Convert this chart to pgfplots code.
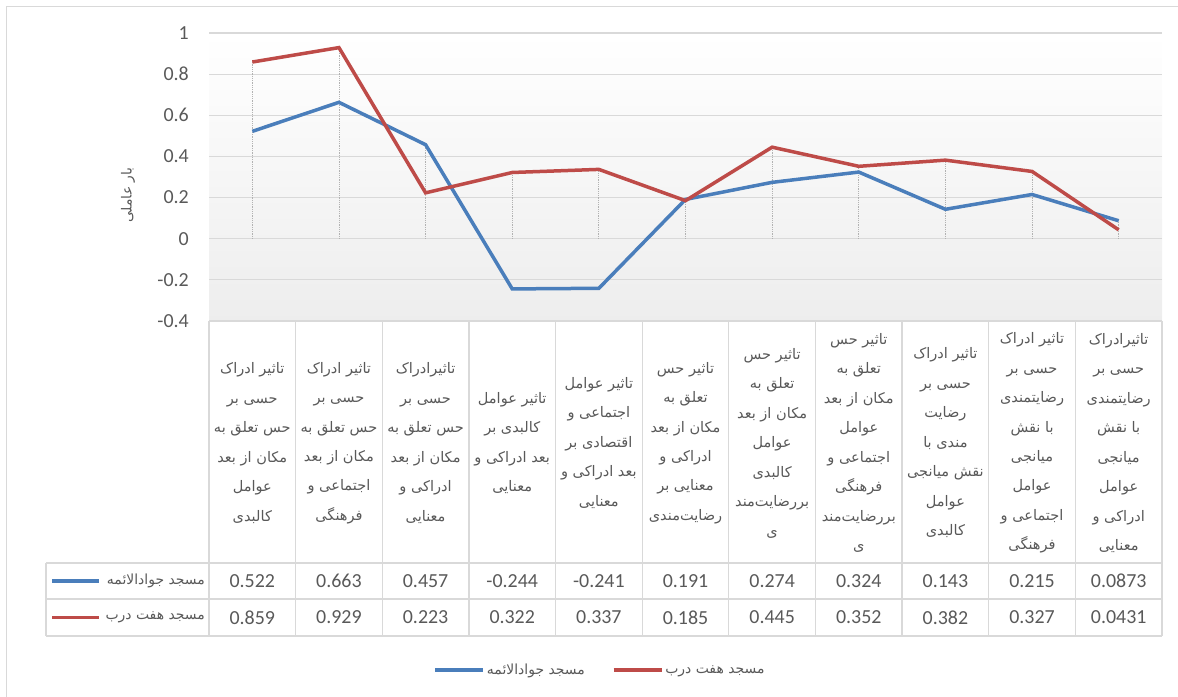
\documentclass[border=0pt]{standalone}
\usepackage{pgfplots}
\pgfplotsset{compat=1.18}
\usepackage{fontspec}
\setmainfont{Carlito}
\newfontfamily\arabicfont[Script=Arabic]{DejaVu Sans}
\TeXXeTstate=1
\definecolor{txt}{HTML}{595959}
\definecolor{bl}{HTML}{4A7EBB}
\definecolor{rd}{HTML}{BE4B48}
\definecolor{grd}{HTML}{D9D9D9}
\newcommand\fa[1]{\beginR #1\endR}
\newcommand\cat[2]{\node[align=center, font=\arabicfont\fontsize{14.6}{29.6}\selectfont, text=txt] at ({209+86.636*(#1-0.5)},443) {#2};}
\begin{document}
\begin{tikzpicture}
\begin{axis}[
 at={(209bp,-321bp)}, anchor=south west,
 scale only axis, width=953bp, height=288bp,
 xmin=0.5, xmax=11.5, ymin=-0.4, ymax=1,
 axis line style={draw=none},
 xtick=\empty,
 ytick={-0.4,-0.2,0,0.2,0.4,0.6,0.8,1},
 yticklabels={-0.4,-0.2,0,0.2,0.4,0.6,0.8,1},
 major tick length=0pt,
 ymajorgrids, grid style={grd, line width=1.2bp},
 yticklabel style={inner sep=0pt, xshift=-20bp, font=\fontsize{20}{24}\selectfont, text=txt},
 axis background/.style={top color=white, bottom color=black!7},
 legend columns=2,
 legend style={at={(0.4103,-1.2118)}, anchor=center, draw=none, fill=none,
   font=\arabicfont\fontsize{14}{16}\selectfont, text=txt,
   /tikz/every even column/.append style={column sep=25bp}},
 legend image code/.code={\draw[#1] (0bp,0bp) -- (48bp,0bp);},
]
\addplot[ycomb, draw=black!30, densely dotted, line width=0.8bp, forget plot] coordinates {
(1,0.859) (2,0.929) (3,0.457) (4,0.322) (5,0.337) (6,0.191) (7,0.445) (8,0.352) (9,0.382) (10,0.327) (11,0.0873)};
\addplot[bl, line width=3.5bp] coordinates {
(1,0.522) (2,0.663) (3,0.457) (4,-0.244) (5,-0.241) (6,0.191) (7,0.274) (8,0.324) (9,0.143) (10,0.215) (11,0.0873)};
\addlegendentry{\fa{مسجد جوادالائمه}}
\addplot[rd, line width=3.5bp] coordinates {
(1,0.859) (2,0.929) (3,0.223) (4,0.322) (5,0.337) (6,0.185) (7,0.445) (8,0.352) (9,0.382) (10,0.327) (11,0.0431)};
\addlegendentry{\fa{مسجد هفت درب}}
\end{axis}
\begin{scope}[x=1bp,y=-1bp]
\path[use as bounding box] (0,0) rectangle (1178,697);
\draw[grd, line width=1bp] (6,697) -- (6,7) -- (1178,7);
\foreach \k in {0,...,11} \draw[grd, line width=1.2bp] ({209+86.636*\k},321) -- ({209+86.636*\k},636);
\draw[grd, line width=1.2bp] (209,321) -- (1162,321);
\foreach \yy in {563,599,636} \draw[grd, line width=1.2bp] (46,\yy) -- (1162,\yy);
\draw[grd, line width=1.2bp] (46,563) -- (46,636);
\foreach \v [count=\i] in {0.522,0.663,0.457,-0.244,-0.241,0.191,0.274,0.324,0.143,0.215,0.0873}
  \node[font=\fontsize{20}{24}\selectfont, text=txt] at ({209+86.636*(\i-0.5)},581) {\v};
\foreach \v [count=\i] in {0.859,0.929,0.223,0.322,0.337,0.185,0.445,0.352,0.382,0.327,0.0431}
  \node[font=\fontsize{20}{24}\selectfont, text=txt] at ({209+86.636*(\i-0.5)},617.5) {\v};
\draw[bl, line width=3.5bp] (52,581) -- (99,581);
\draw[rd, line width=3.5bp] (52,617.5) -- (99,617.5);
\node[anchor=east, inner sep=0pt, font=\arabicfont\fontsize{14}{16}\selectfont, text=txt] at (205,581) {\fa{مسجد جوادالائمه}};
\node[anchor=east, inner sep=0pt, font=\arabicfont\fontsize{14}{16}\selectfont, text=txt] at (205,617.5) {\fa{مسجد هفت درب}};
\node[rotate=90, font=\arabicfont\fontsize{14}{16}\selectfont, text=txt] at (128,195) {\fa{بار عاملی}};
\cat{1}{\fa{تاثیر ادراک}\\\fa{حسی بر}\\\fa{حس تعلق به}\\\fa{مکان از بعد}\\\fa{عوامل}\\\fa{کالبدی}}
\cat{2}{\fa{تاثیر ادراک}\\\fa{حسی بر}\\\fa{حس تعلق به}\\\fa{مکان از بعد}\\\fa{اجتماعی و}\\\fa{فرهنگی}}
\cat{3}{\fa{تاثیرادراک}\\\fa{حسی بر}\\\fa{حس تعلق به}\\\fa{مکان از بعد}\\\fa{ادراکی و}\\\fa{معنایی}}
\cat{4}{\fa{تاثیر عوامل}\\\fa{کالبدی بر}\\\fa{بعد ادراکی و}\\\fa{معنایی}}
\cat{5}{\fa{تاثیر عوامل}\\\fa{اجتماعی و}\\\fa{اقتصادی بر}\\\fa{بعد ادراکی و}\\\fa{معنایی}}
\cat{6}{\fa{تاثیر حس}\\\fa{تعلق به}\\\fa{مکان از بعد}\\\fa{ادراکی و}\\\fa{معنایی بر}\\\fa{رضایت‌مندی}}
\cat{7}{\fa{تاثیر حس}\\\fa{تعلق به}\\\fa{مکان از بعد}\\\fa{عوامل}\\\fa{کالبدی}\\\fa{بررضایت‌مند}\\\fa{ی}}
\cat{8}{\fa{تاثیر حس}\\\fa{تعلق به}\\\fa{مکان از بعد}\\\fa{عوامل}\\\fa{اجتماعی و}\\\fa{فرهنگی}\\\fa{بررضایت‌مند}\\\fa{ی}}
\cat{9}{\fa{تاثیر ادراک}\\\fa{حسی بر}\\\fa{رضایت}\\\fa{مندی با}\\\fa{نقش میانجی}\\\fa{عوامل}\\\fa{کالبدی}}
\cat{10}{\fa{تاثیر ادراک}\\\fa{حسی بر}\\\fa{رضایتمندی}\\\fa{با نقش}\\\fa{میانجی}\\\fa{عوامل}\\\fa{اجتماعی و}\\\fa{فرهنگی}}
\cat{11}{\fa{تاثیرادراک}\\\fa{حسی بر}\\\fa{رضایتمندی}\\\fa{با نقش}\\\fa{میانجی}\\\fa{عوامل}\\\fa{ادراکی و}\\\fa{معنایی}}
\end{scope}
\end{tikzpicture}
\end{document}
